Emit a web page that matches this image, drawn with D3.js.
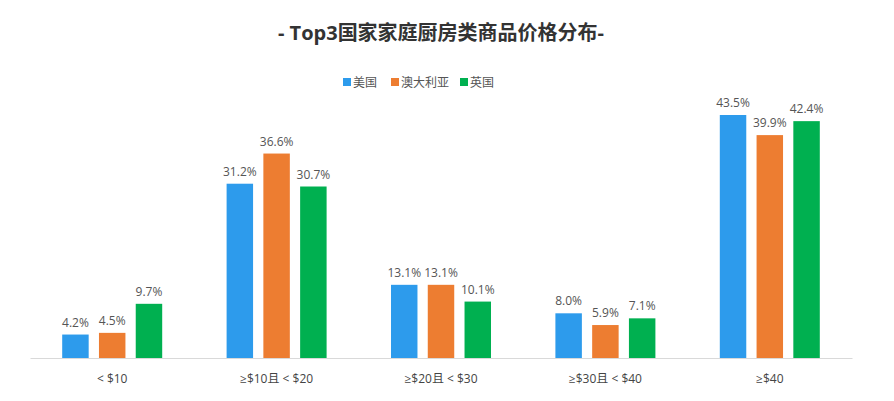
<!DOCTYPE html>
<html><head><meta charset="utf-8">
<script src="https://cdn.jsdelivr.net/npm/d3@7/dist/d3.min.js"></script>
<style>body{margin:0;background:#fff}svg{display:block;font-family:"Open Sans","Noto Sans CJK SC",sans-serif}</style>
</head><body><svg id="c" width="894" height="401"></svg>
<script>
const title = "- Top3国家家庭厨房类商品价格分布-";
const categories = ["< $10", "≥$10且 < $20", "≥$20且 < $30", "≥$30且 < $40", "≥$40"];
const seriesNames = ["美国", "澳大利亚", "英国"];
const usa = [4.2, 31.2, 13.1, 8.0, 43.5];
const aus = [4.5, 36.6, 13.1, 5.9, 39.9];
const uk = [9.7, 30.7, 10.1, 7.1, 42.4];
const colors = ["#2d9bec", "#ed7d31", "#00b050"];
const seriesValues = [usa, aus, uk];
const FONT = '"Open Sans","Noto Sans CJK SC",sans-serif';

const svg = d3.select("#c");
const x0 = d3.scaleBand().domain(categories).range([30, 852]);
const x1 = d3.scaleBand().domain(seriesNames).range([0, 100]).paddingInner(0.28);
const y = d3.scaleLinear().domain([0, 43.5]).range([358, 115]);

svg.append("text").attr("x", 441).attr("y", 40).attr("text-anchor", "middle")
  .attr("font-size", 20).attr("font-weight", "bold").attr("fill", "#333").text(title);

// legend
const legendX = [343, 391, 460];
seriesNames.forEach((n, i) => {
  const g = svg.append("g").attr("transform", `translate(${legendX[i]},82)`);
  g.append("rect").attr("x", 0).attr("y", -4).attr("width", 8).attr("height", 8).attr("fill", colors[i]);
  g.append("text").attr("x", 10).attr("y", 4.5).attr("font-size", 12).attr("fill", "#555").text(n);
});

// axis
const axis = svg.append("g").attr("transform", "translate(0,358)")
  .call(d3.axisBottom(x0).tickSize(0).tickPadding(16));
axis.select(".domain").attr("stroke", "#d9d9d9");
axis.selectAll("text").attr("font-size", 12).attr("fill", "#444").attr("font-family", FONT);

seriesValues.forEach((vals, si) => {
  const g = svg.append("g");
  g.selectAll("rect").data(vals).join("rect")
    .attr("x", (d, i) => x0(categories[i]) + x0.bandwidth() / 2 - 50 + x1(seriesNames[si]))
    .attr("width", x1.bandwidth())
    .attr("y", d => y(d)).attr("height", d => 358 - y(d))
    .attr("fill", colors[si]);
  g.selectAll("text").data(vals).join("text")
    .attr("x", (d, i) => x0(categories[i]) + x0.bandwidth() / 2 - 50 + x1(seriesNames[si]) + x1.bandwidth() / 2)
    .attr("y", d => y(d) - 8)
    .attr("text-anchor", "middle").attr("font-size", 12).attr("fill", "#555")
    .text(d => d.toFixed(1) + "%");
});
</script></body></html>
